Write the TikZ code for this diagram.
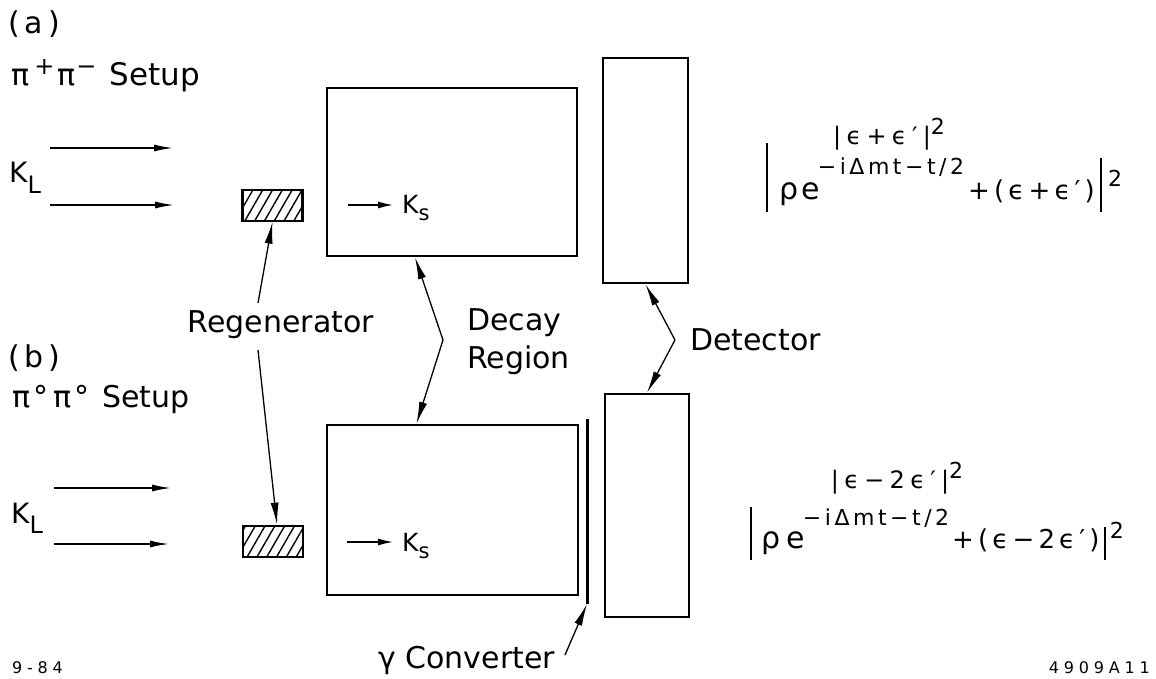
\documentclass[tikz,border=0pt]{standalone}
\usepackage{fontspec}
\setmainfont{DejaVu Sans}
\newfontfamily\fmf[LetterSpace=10]{DejaVu Sans}
\newfontfamily\fmg[LetterSpace=16]{DejaVu Sans}
\newfontfamily\fmw[LetterSpace=22]{DejaVu Sans}
\newfontfamily\smf[LetterSpace=30]{DejaVu Sans}
\usetikzlibrary{arrows.meta,patterns.meta}
\newcommand\Lbl{\fontsize{30}{34}\selectfont}
\newcommand\FA{\fmf\fontsize{22}{24}\selectfont}
\newcommand\FE{\fmg\fontsize{22}{24}\selectfont}
\newcommand\FL{\fmw\fontsize{24}{26}\selectfont}
\newcommand\FB{\fmf\fontsize{30}{32}\selectfont}
\newcommand\FC{\fmg\fontsize{26}{28}\selectfont}
\newcommand\SupA[1]{\raisebox{11pt}{\fontsize{24}{26}\selectfont #1}}
\tikzset{
  box/.style={draw, line width=2.6pt, inner sep=0pt},
  regen/.style={draw, line width=2.6pt, inner sep=0pt, minimum width=60pt, minimum height=31pt,
    pattern={Lines[angle=60,distance=8.5pt,line width=1.4pt]}},
  beam/.style={line width=2pt, -{Latex[length=20pt,width=7pt]}},
  ksbeam/.style={line width=2pt, -{Latex[length=16pt,width=7pt]}},
  ptr/.style={line width=1.3pt, -{Latex[length=22pt,width=8pt]}},
  lab/.style={inner sep=0pt, font=\Lbl},
  fml/.style={inner sep=0pt},
}
\begin{document}
\begin{tikzpicture}[x=1pt,y=-1pt]
\useasboundingbox (0,0) rectangle (1156,679);

% ---- labels left ----
\node[lab, anchor=west] (la) at (8,24) {(\,a\,)};
\node[lab, anchor=base west] (setA) at (11,86) {π\hspace{5pt}\SupA{+}\hspace{3pt}π\hspace{1pt}\SupA{−}\hspace{13pt}{\fontsize{31}{34}\selectfont Setup}};
\node[lab, anchor=west] (lb) at (8,358) {(\,b\,)};
\node[lab, anchor=base west] (setB) at (12,407) {π\hspace{3pt}°\hspace{5pt}π\hspace{3pt}°\hspace{13pt}{\fontsize{30}{34}\selectfont Setup}};

% ---- K_L beams ----
\node[lab, anchor=base west, font=\fontsize{28}{30}\selectfont] (klA) at (9,183) {K\raisebox{-10pt}{\fontsize{24}{26}\selectfont L}};
\node[lab, anchor=base west, font=\fontsize{28}{30}\selectfont] (klB) at (11,523) {K\raisebox{-10pt}{\fontsize{24}{26}\selectfont L}};
\coordinate (a1s) at (50,148); \coordinate (a1e) at (174,148);
\coordinate (a2s) at (50,205); \coordinate (a2e) at (175,205);
\coordinate (b1s) at (54,488); \coordinate (b1e) at (172,488);
\coordinate (b2s) at (54,544); \coordinate (b2e) at (170,544);
\draw[beam] (a1s) -- (a1e);
\draw[beam] (a2s) -- (a2e);
\draw[beam] (b1s) -- (b1e);
\draw[beam] (b2s) -- (b2e);

% ---- regenerators ----
\node[regen] (regA) at (272.5,205.5) {};
\node[regen] (regB) at (273,541.5) {};
\node[lab, anchor=base] (rgl) at (281,332) {Regenerator};
\coordinate (rg1) at (258,303);
\coordinate (rg2) at (258,350);
\draw[ptr] (rg1) -- (regA.south);
\draw[ptr] (rg2) -- ([xshift=4pt]regB.north);

% ---- decay regions ----
\node[box, minimum width=250pt, minimum height=168pt] (decA) at (452,172) {};
\node[box, minimum width=251pt, minimum height=170pt] (decB) at (452.5,510) {};
\node[lab, anchor=base west, font=\fontsize{25}{27}\selectfont] (ksA) at (402,214) {K\raisebox{-7pt}{\fontsize{21}{23}\selectfont s}};
\node[lab, anchor=base west, font=\fontsize{25}{27}\selectfont] (ksB) at (402,551) {K\raisebox{-7pt}{\fontsize{21}{23}\selectfont s}};
\coordinate (ksAs) at (348,205);
\coordinate (ksBs) at (347,542);
\draw[ksbeam] (ksAs) -- ([xshift=-8pt]ksA.west |- ksAs);
\draw[ksbeam] (ksBs) -- ([xshift=-8pt]ksB.west |- ksBs);
\node[lab, anchor=base west] (dc1) at (467,330) {Decay};
\node[lab, anchor=base west] (dc2) at (467,368) {Region};
\coordinate (dk) at (443,340);
\draw[ptr] (dk) -- ([xshift=-37pt]decA.south);
\draw[ptr] (dk) -- ([xshift=-36pt]decB.north);

% ---- converter ----
\coordinate (cvt) at (587,419);
\coordinate (cvb) at (587,604);
\draw[line width=3pt] (cvt) -- (cvb);
\node[lab, anchor=base west] (cvl) at (378,668) {γ Converter};
\coordinate (cvp) at (565,655);
\draw[ptr] (cvp) -- (cvb);

% ---- detectors ----
\node[box, minimum width=85pt, minimum height=225pt] (detA) at (645.5,170.5) {};
\node[box, minimum width=84pt, minimum height=223pt] (detB) at (647,505.5) {};
\node[lab, anchor=base west] (dtl) at (690,350) {Detector};
\coordinate (dt) at (675,340);
\draw[ptr] (dt) -- (detA.south);
\draw[ptr] (dt) -- (detB.north);

% ---- formulas ----
\node[fml, anchor=base] (fA1) at (889,145) {\FL |ϵ+ϵ′|\raisebox{10pt}{\FA 2}};
\node[fml, anchor=base west] (fA2) at (766,200) {\rule[-12pt]{2.2pt}{69pt}\hspace{11pt}{\FB ρe}\hspace{-2pt}\raisebox{25pt}{\FE −iΔmt−t/2}\hspace{4pt}{\FC +(ϵ+ϵ′)}\hspace{5pt}\rule[-12pt]{2.2pt}{54pt}\hspace{6pt}\raisebox{13pt}{\FA 2}};
\node[fml, anchor=base] (fB1) at (897,488) {\FL |ϵ−2ϵ′|\raisebox{10pt}{\FA 2}};
\node[fml, anchor=base west] (fB2) at (750,548) {\rule[-12pt]{2.2pt}{53pt}\hspace{9pt}{\FB ρ\hspace{6pt}e}\hspace{-2pt}\raisebox{23pt}{\FE −iΔmt−t/2}\hspace{3pt}{\FC +(ϵ−2ϵ′)}\hspace{4pt}\rule[-12pt]{2.2pt}{33pt}\hspace{4pt}\raisebox{10pt}{\FA 2}};

% ---- codes ----
\node[fml, anchor=base west] (c1) at (12,673) {\smf\fontsize{16}{18}\selectfont 9-84};
\node[fml, anchor=base east] (c2) at (1150,673) {\smf\fontsize{16}{18}\selectfont 4909A11};
\end{tikzpicture}
\end{document}
